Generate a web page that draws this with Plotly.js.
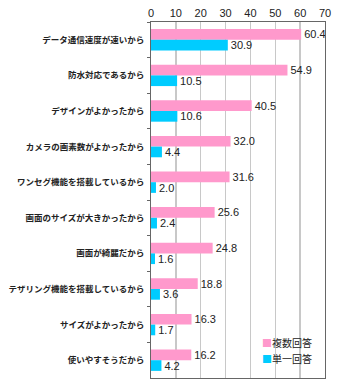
<!DOCTYPE html>
<html><head><meta charset="utf-8">
<script src="https://cdn.plot.ly/plotly-3.0.1.min.js"></script>
<style>body{margin:0;padding:0;background:#fff}</style>
</head><body><div id="chart" style="width:340px;height:386px"></div>
<script>
const categories = ["データ通信速度が速いから","防水対応であるから","デザインがよかったから","カメラの画素数がよかったから","ワンセグ機能を搭載しているから","画面のサイズが大きかったから","画面が綺麗だから","テザリング機能を搭載しているから","サイズがよかったから","使いやすそうだから"];
const multiAnswer = [60.4,54.9,40.5,32.0,31.6,25.6,24.8,18.8,16.3,16.2];
const singleAnswer = [30.9,10.5,10.6,4.4,2.0,2.4,1.6,3.6,1.7,4.2];
const seriesNames = ["複数回答","単一回答"];
const seriesColors = ['#FF99CC','#00CCFF'];

const fontFam = '"Noto Sans CJK JP", "Noto Sans", sans-serif';
const labelFam = 'Arial, "Liberation Sans", sans-serif';
const traces = [multiAnswer, singleAnswer].map((vals, i) => ({
  type:'bar', orientation:'h', name:seriesNames[i], y:categories, x:vals,
  marker:{color:seriesColors[i]},
  text:vals.map(v=>v.toFixed(1)), textposition:'outside', cliponaxis:false, constraintext:'none',
  textfont:{family:labelFam, size:11, color:'#222'}, hoverinfo:'none', showlegend:false
}));
const legendAnn = seriesNames.map((n, i) => ({
  xref:'paper', yref:'paper', x:0.635, y:0.099 - i*0.043, xanchor:'left', yanchor:'middle',
  showarrow:false, align:'left', borderpad:0,
  text:'<span style="color:' + seriesColors[i] + '">■</span>' + n,
  font:{family:fontFam, size:10, color:'#222'}
}));
const layout = {
  width:340, height:386,
  margin:{l:151, r:15, t:22, b:8},
  paper_bgcolor:'#fff', plot_bgcolor:'#fff',
  barmode:'group', bargap:0.4, bargroupgap:0,
  font:{family:fontFam, color:'#222'},
  showlegend:false,
  annotations:legendAnn,
  xaxis:{side:'top', range:[0,70], dtick:10, showgrid:true, gridcolor:'#c8c8c8', gridwidth:1.5,
         zeroline:false, showline:true, linecolor:'#666', linewidth:1, mirror:true,
         ticks:'', tickfont:{size:11, family:labelFam, color:'#222'}, fixedrange:true},
  yaxis:{autorange:'reversed', type:'category', showgrid:false, showline:true, linecolor:'#666',
         linewidth:1, mirror:true, ticks:'outside', tickson:'boundaries', ticklen:3, tickcolor:'#666',
         tickfont:{size:8.5, family:fontFam, color:'#222', weight:'bold'}, ticklabelstandoff:4, fixedrange:true}
};
Plotly.newPlot('chart', traces, layout, {displayModeBar:false, staticPlot:true});
</script></body></html>
